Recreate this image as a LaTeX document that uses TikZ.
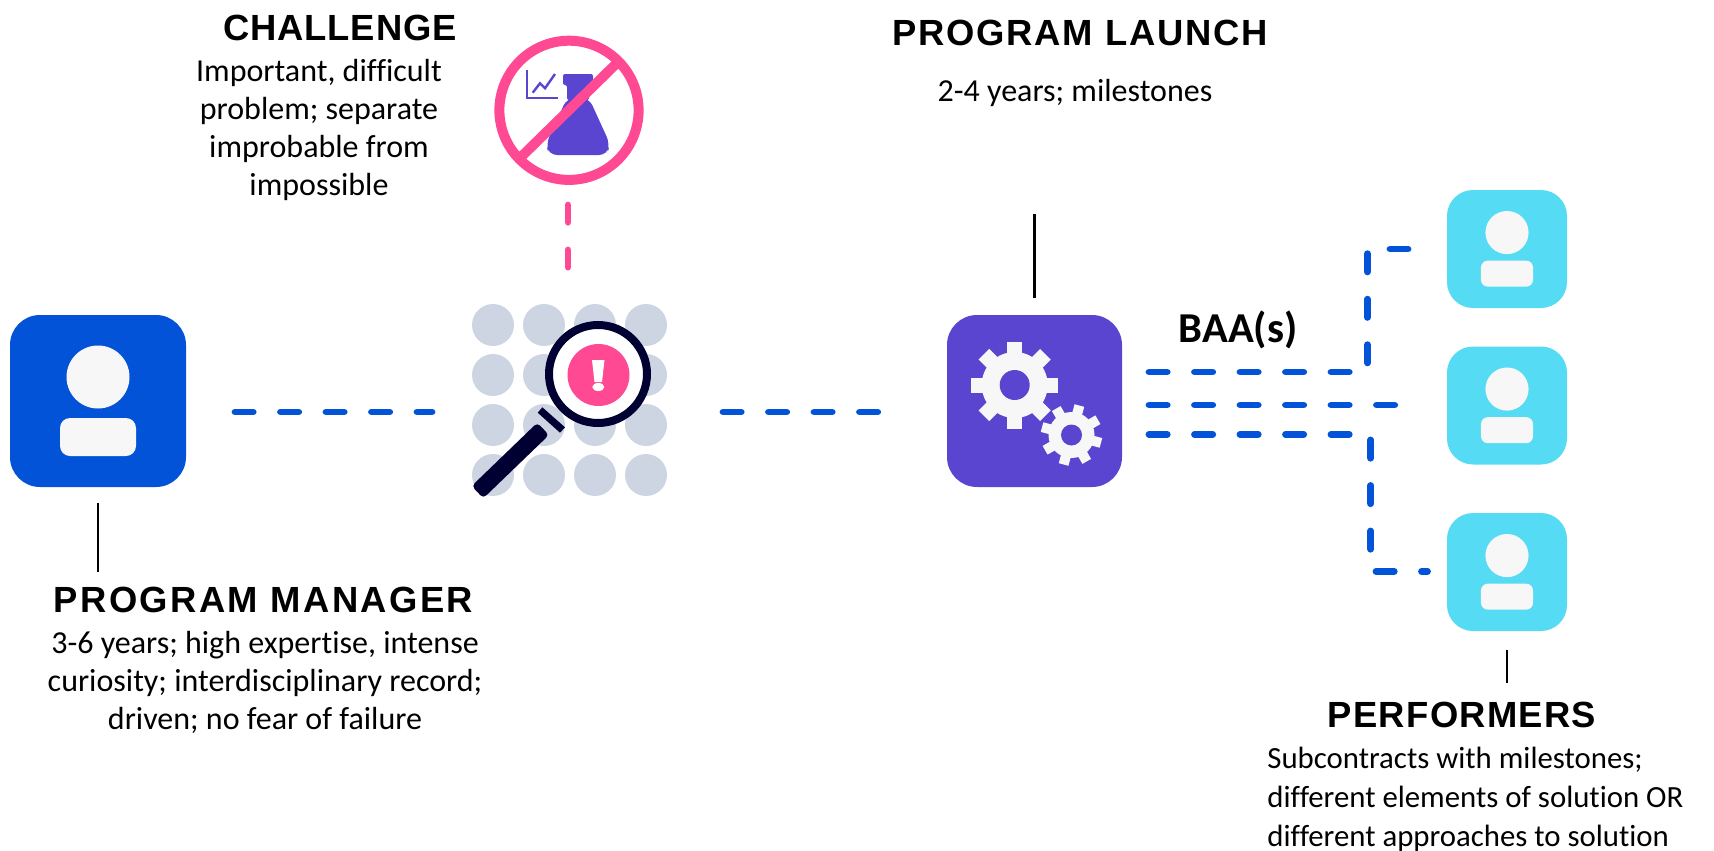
\documentclass[tikz,border=0pt]{standalone}
\usepackage{fontspec}
\setmainfont[Ligatures=NoCommon]{Carlito}
\newfontfamily\headfont[LetterSpace=5]{Liberation Sans}
\usetikzlibrary{calc}
\definecolor{pmblue}{HTML}{0353D8}
\definecolor{gearpurple}{HTML}{5A45D1}
\definecolor{perfcyan}{HTML}{55DBF3}
\definecolor{alertpink}{HTML}{FF4993}
\definecolor{lensnavy}{HTML}{000033}
\definecolor{dotgrey}{HTML}{CDD5E3}
\definecolor{iconwhite}{HTML}{F7F7F7}
\tikzset{
	managerbox/.style={fill=pmblue, minimum width=88pt, minimum height=86pt, rounded corners=15pt, inner sep=0},
	launchbox/.style={fill=gearpurple, minimum width=87.5pt, minimum height=86pt, rounded corners=15pt, inner sep=0},
	perfbox/.style={fill=perfcyan, minimum width=60pt, minimum height=59pt, rounded corners=13pt, inner sep=0},
	heading/.style={font=\headfont\bfseries\fontsize{18.2}{20}\selectfont, anchor=base, inner sep=0},
	bodytext/.style={font=\fontsize{16}{19}\selectfont, align=center, inner sep=0},
	bluedash/.style={draw=pmblue, line width=3.4pt, line cap=round, line join=round, dash pattern=on 9.1pt off 13.65pt},
	pinkdash/.style={draw=alertpink, line width=3.4pt, line cap=round, dash pattern=on 8.6pt off 13.9pt},
	tick/.style={draw=black, line width=1.1pt},
}
\newcommand{\person}[2]{
	\fill[iconwhite] ($(#1)+(0,-24*#2)$) circle (31.5*#2*0.5pt);
	\fill[iconwhite, rounded corners=5pt*#2] ($(#1)+(-38*#2,17*#2)$) rectangle ($(#1)+(38*#2,55*#2)$);
}
\newcommand{\gear}[6]{
	\fill[iconwhite] (#1) circle (#3*0.5pt);
	\foreach \a in {0,45,...,315}
		\draw[iconwhite, line width=#5*0.5pt] (#1) -- ++(\a+#6:#2);
	\fill[gearpurple] (#1) circle (#4*0.5pt);
}
\begin{document}
\begin{tikzpicture}[x=0.5pt, y=-0.5pt]
	\useasboundingbox (0,0) rectangle (1714,851);

	\node[managerbox] (manager) at (98,401) {};
	\node[launchbox] (launch) at (1034.5,401) {};
	\node[perfbox] (perfa) at (1507,249) {};
	\node[perfbox] (perfb) at (1507,405.5) {};
	\node[perfbox] (perfc) at (1507,572) {};
	\person{manager}{1}
	\person{perfa}{0.685}
	\person{perfb}{0.685}
	\person{perfc}{0.685}

	\gear{1014.7,385}{43.5}{33}{15}{15}{0}
	\gear{1071.5,435}{30.5}{23}{10.5}{10}{15}

	\foreach \x in {493,544,595,646}
		\foreach \y in {325,375,425,475}
			\fill[dotgrey] (\x,\y) circle (10.5pt);
	\filldraw[fill=white, draw=lensnavy, line width=4pt] (598,374) circle (24.5pt);
	\fill[alertpink] (598.5,375) circle (15.5pt);
	\fill[white] (592,360) -- (604.5,360) -- (602,382) -- (594.5,382) -- cycle;
	\fill[white] (598.3,387) ellipse (3pt and 2pt);
	\fill[lensnavy] (542.3,407.3) -- (565,427.3) -- (560,432.7) -- (537.7,412.7) -- cycle;
	\fill[lensnavy, rounded corners=2pt] (537.3,422.7) -- (549,435) -- (483.3,498.3) -- (471.7,486) -- cycle;

	\fill[gearpurple, rounded corners=4pt] (589,98) -- (610,144) -- (607,155) -- (549,155) -- (546,144) -- (567,98) -- cycle;
	\fill[gearpurple, rounded corners=1pt] (563,74) -- (593,74) -- (593,85) -- (589,85) -- (589,100) -- (567,100) -- (567,85) -- (563,85) -- cycle;
	\draw[gearpurple, line width=1pt] (527.3,70) -- (527.3,98.3) -- (558.3,98.3);
	\draw[gearpurple, line width=1.2pt] (532.7,92.7) -- (540,83.3) -- (545,88.3) -- (555,74);
	\draw[alertpink, line width=5pt] (569,110.3) circle (34.8pt);
	\draw[alertpink, line width=5pt] (617,63) -- (521,157);

	\node[heading] (pmhead) at (263.5,612.7) {\addfontfeature{LetterSpace=6.5}PROGRAM MANAGER};
	\node[heading] (chalhead) at (340,40) {\addfontfeature{LetterSpace=2.5}CHALLENGE};
	\node[heading] (launchhead) at (1080,46) {PROGRAM LAUNCH};
	\node[heading] (perfhead) at (1462,727) {\addfontfeature{LetterSpace=3.5}PERFORMERS};

	\node[bodytext] (pmtext) at (265,682) {3-6 years; high expertise, intense\\curiosity; interdisciplinary record;\\driven; no fear of failure};
	\node[bodytext] (chaltext) at (319,130) {Important, difficult\\problem; separate\\improbable from\\impossible};
	\node[bodytext] (launchtext) at (1075,93) {2-4 years; milestones};
	\node[bodytext, align=left, anchor=west, font=\fontsize{15.4}{19.5}\selectfont] (perftext) at (1267,799) {Subcontracts with milestones;\\different elements of solution OR\\different approaches to solution};
	\node[font=\bfseries\fontsize{21.3}{24}\selectfont, inner sep=0] (baa) at (1238,330) {BAA(s)};

	\draw[tick, shorten <=8pt, shorten >=7.5pt] (manager.south) -- (manager.south |- pmhead.north);
	\coordinate (launchtop) at (launch.north |- 0,214);
	\draw[tick, shorten >=8.5pt] (launchtop) -- (launch.north);
	\coordinate (perfbottom) at (perfc.south |- 0,683);
	\draw[tick, shorten <=9.5pt] (perfc.south) -- (perfbottom);

	\coordinate (scanin) at (432,412);
	\coordinate (scanout) at (723,412);
	\coordinate (managerout) at (235,412);
	\coordinate (launchin) at (878,412);
	\coordinate (flaskout) at (568,205);
	\coordinate (scantop) at (568,268);
	\draw[bluedash] (managerout) -- (scanin);
	\draw[bluedash] (scanout) -- (launchin);
	\draw[pinkdash] (flaskout) -- (scantop);

	\coordinate (upa) at (1149,372);
	\coordinate (upb) at (1367.4,249);
	\coordinate (upc) at (1408,249);
	\coordinate (mida) at (1149,405);
	\coordinate (midb) at (1396,405);
	\coordinate (lowa) at (1149,434.3);
	\coordinate (lowb) at (1370.8,571.3);
	\coordinate (lowc) at (1427.5,571.3);
	\draw[bluedash] (upa) -| (upb) -- (upc);
	\draw[bluedash] (mida) -- (midb);
	\draw[bluedash] (lowa) -| (lowb) -- (lowc);
\end{tikzpicture}
\end{document}
